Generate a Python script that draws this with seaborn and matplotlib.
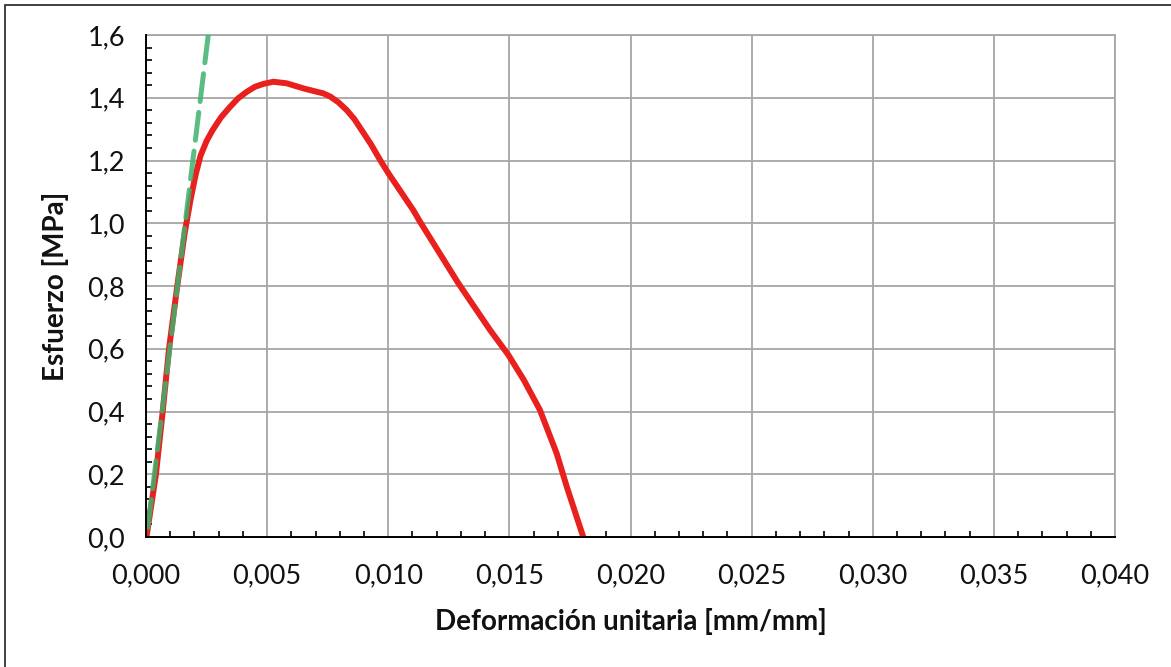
import matplotlib
matplotlib.use("Agg")
import matplotlib.pyplot as plt
from matplotlib.ticker import MultipleLocator, FuncFormatter
from matplotlib.patches import Rectangle
import seaborn as sns
import pandas as pd

# ---- data ----
strain = [-0.00015, -0.00015, 0.00002, 0.00041, 0.00069, 0.00095, 0.00129, 0.00160,
          0.00185, 0.00205, 0.00225, 0.00250, 0.00275, 0.00310, 0.00347, 0.00380,
          0.00416, 0.00450, 0.00484, 0.00526, 0.00581, 0.00649, 0.00700, 0.00732,
          0.00760, 0.00795, 0.00828, 0.00860, 0.00890, 0.00930, 0.00966, 0.01000,
          0.01103, 0.01131, 0.01289, 0.01420, 0.01496, 0.01560, 0.01626, 0.01695,
          0.01737, 0.01805]
stress = [0.05, 0.00, 0.00, 0.20, 0.40, 0.60, 0.80, 0.97,
          1.08, 1.155, 1.215, 1.262, 1.297, 1.338, 1.371, 1.398,
          1.419, 1.435, 1.444, 1.451, 1.446, 1.430, 1.420, 1.414,
          1.404, 1.385, 1.361, 1.332, 1.297, 1.250, 1.202, 1.160,
          1.042, 1.005, 0.809, 0.660, 0.580, 0.500, 0.405, 0.267,
          0.160, 0.000]

elastic_strain = [0.00257, 0.00003]
elastic_stress = [1.6, 0.0]

x_ticks = [0.000, 0.005, 0.010, 0.015, 0.020, 0.025, 0.030, 0.035, 0.040]
y_ticks = [0.0, 0.2, 0.4, 0.6, 0.8, 1.0, 1.2, 1.4, 1.6]

x_label = "Deformación unitaria [mm/mm]"
y_label = "Esfuerzo [MPa]"

# ---- plot ----
sns.set_theme(style="white")
plt.rcParams['font.family'] = ['Lato', 'DejaVu Sans']

fig = plt.figure(figsize=(11.71, 6.67), dpi=100)
ax = fig.add_axes([146/1171, 1 - 537/667, (1115-146)/1171, (537-35)/667])

df_curve = pd.DataFrame({"strain": strain, "stress": stress})
df_el = pd.DataFrame({"strain": elastic_strain, "stress": elastic_stress})

sns.lineplot(data=df_curve, x="strain", y="stress", sort=False, estimator=None,
             color="#E8201E", linewidth=4.3, ax=ax, zorder=3)
ax.lines[-1].set_solid_joinstyle("round")
ax.lines[-1].set_solid_capstyle("butt")
sns.lineplot(data=df_el, x="strain", y="stress", sort=False, estimator=None,
             color="#3DB36E", linewidth=3.6, ax=ax, zorder=4, alpha=0.85)
ax.lines[-1].set_dashes((5.6, 2.2))
ax.lines[-1].set_dash_capstyle("round")

ax.set_xlim(x_ticks[0], x_ticks[-1])
ax.set_ylim(y_ticks[0], y_ticks[-1])
ax.set_xticks(x_ticks)
ax.set_yticks(y_ticks)
ax.xaxis.set_minor_locator(MultipleLocator(0.001))
ax.yaxis.set_minor_locator(MultipleLocator(0.04))
ax.xaxis.set_major_formatter(FuncFormatter(lambda v, p: f"{v:.3f}".replace(".", ",")))
ax.yaxis.set_major_formatter(FuncFormatter(lambda v, p: f"{v:.1f}".replace(".", ",")))

ax.grid(True, which="major", color="#A6A6A6", linewidth=1.3)
ax.set_axisbelow(True)

for s in ["left", "bottom"]:
    ax.spines[s].set_color("black")
    ax.spines[s].set_linewidth(1.4)
    ax.spines[s].set_zorder(5)
for s in ["top", "right"]:
    ax.spines[s].set_color("#A6A6A6")
    ax.spines[s].set_linewidth(1.3)

ax.tick_params(which="major", direction="inout", length=12, width=1.3,
               color="black", labelsize=19.5, labelcolor="#111111")
ax.tick_params(axis="y", which="major", pad=9)
ax.tick_params(axis="x", which="major", pad=13)
ax.tick_params(which="minor", direction="in", length=4, width=1.2, color="black",
               left=True, bottom=True)
ax.tick_params(top=False, right=False, which="both")

ax.set_xlabel(x_label, fontsize=20, fontweight="bold", color="#111111", labelpad=14)
ax.set_ylabel(y_label, fontsize=20, fontweight="bold", color="#111111", labelpad=13)

# outer frame (cropped at right and bottom in the reference)
fig.patches.append(Rectangle((5/1171, -0.1), 1.2, 1 - 4.5/667 + 0.1,
                             transform=fig.transFigure, fill=False,
                             edgecolor="#202020", linewidth=1.2))

fig.savefig("out.png", dpi=100)
